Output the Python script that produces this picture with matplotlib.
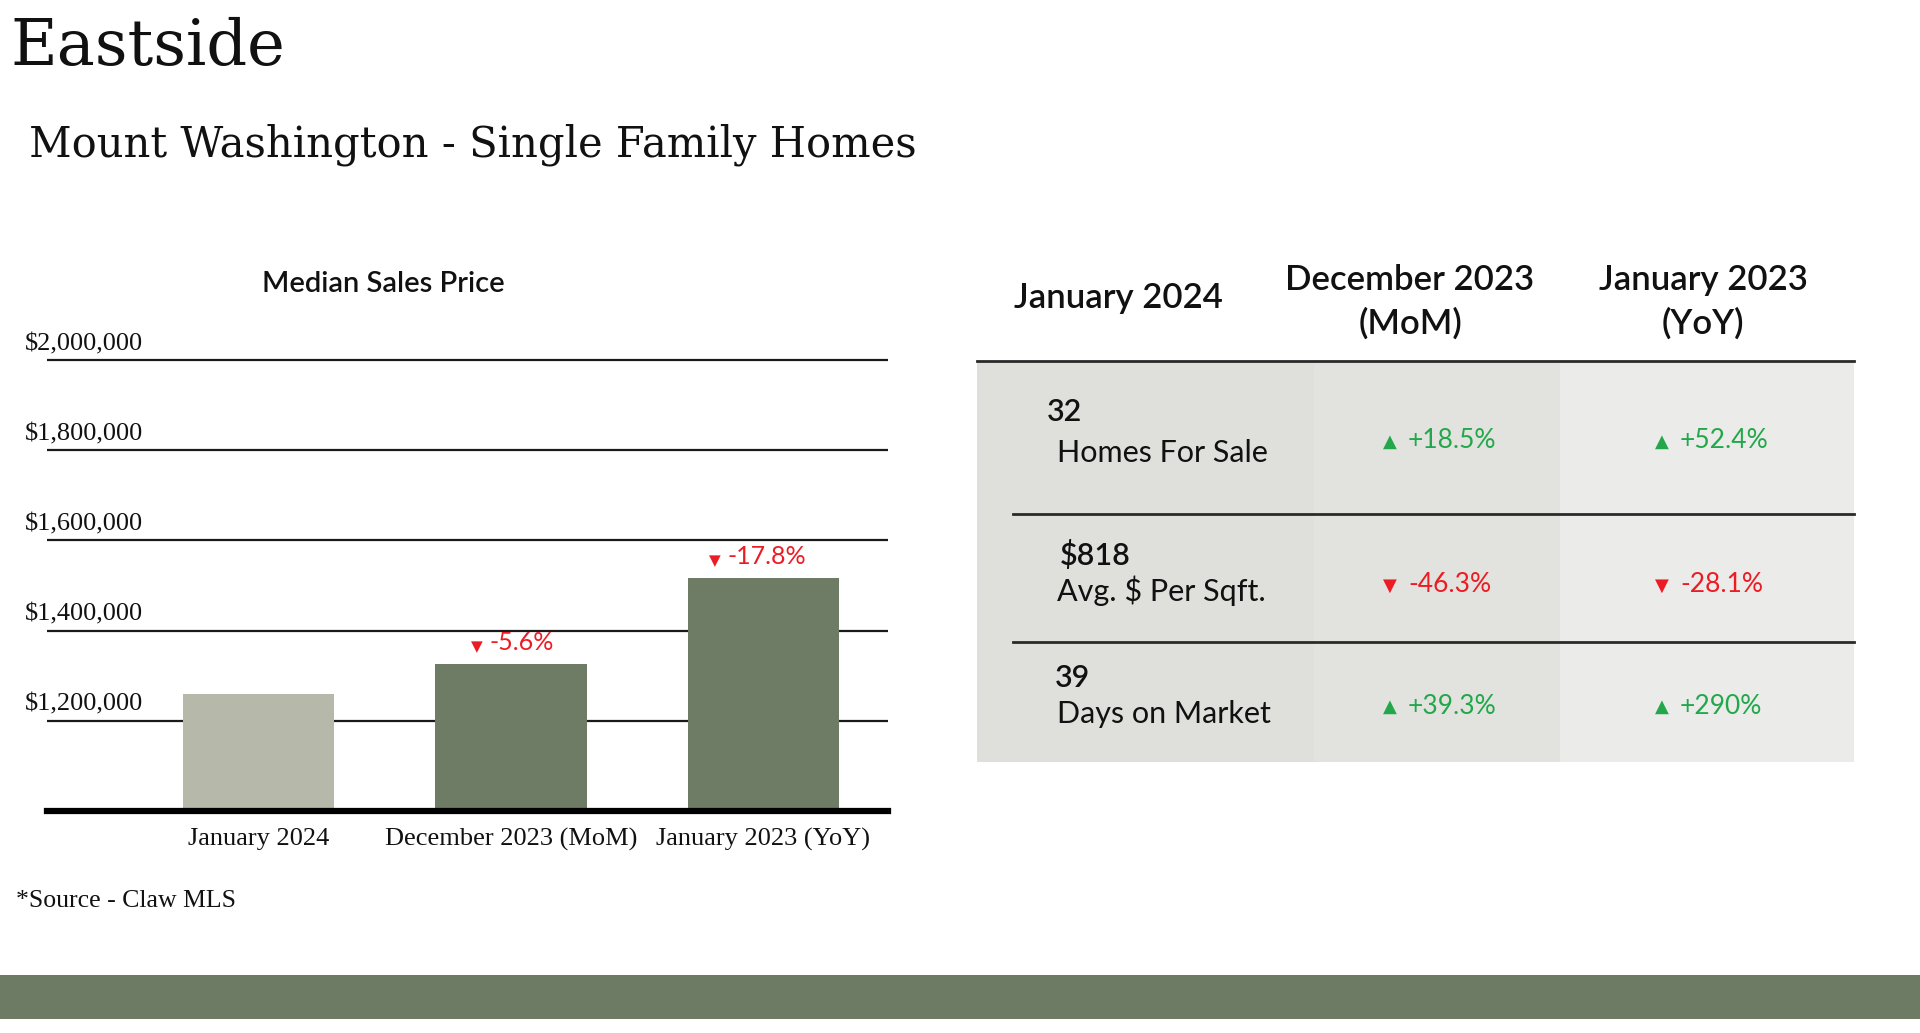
import matplotlib
matplotlib.use("Agg")
import matplotlib.pyplot as plt
from matplotlib.patches import Rectangle

# ---- data -------------------------------------------------------------
PERIODS = ["January 2024", "December 2023 (MoM)", "January 2023 (YoY)"]
MEDIAN_PRICE = [1260000, 1327000, 1517000]
PRICE_CHANGE = [None, "-5.6%", "-17.8%"]
PRICE_TICKS = [1200000, 1400000, 1600000, 1800000, 2000000]
PRICE_TICK_LABELS = ["$1,200,000", "$1,400,000", "$1,600,000", "$1,800,000", "$2,000,000"]

TABLE_HEADERS = ["January 2024", "December 2023\n(MoM)", "January 2023\n(YoY)"]
METRICS = ["Homes For Sale", "Avg. $ Per Sqft.", "Days on Market"]
CURRENT = ["32", "$818", "39"]
MOM = ["+18.5%", "-46.3%", "+39.3%"]
YOY = ["+52.4%", "-28.1%", "+290%"]

# ---- style ------------------------------------------------------------
SERIF = "Liberation Serif"
TITLE_SERIF = "DejaVu Serif"
SANS = "Lato"
BAR_LIGHT = "#b6b8aa"
BAR_DARK = "#6f7c65"
BAND = "#6e7b64"
RED = "#ec1c24"
GREEN = "#22a84b"
INK = "#111111"
W, H = 1920, 1033

fig = plt.figure(figsize=(W / 100, H / 100), dpi=100)
fig.patch.set_facecolor("white")

# page layer in pixel coords (y down) for titles / table / band
page = fig.add_axes([0, 0, 1, 1])
page.set_xlim(0, W); page.set_ylim(H, 0)
page.axis("off")

page.text(10, 65, "Eastside", family=TITLE_SERIF, fontsize=46, color=INK, va="baseline")
page.text(29, 156, "Mount Washington - Single Family Homes", family=TITLE_SERIF, fontsize=30,
          color=INK, va="baseline")
page.text(383, 284, "Median Sales Price", family=SANS, fontsize=21, fontweight="semibold",
          color=INK, ha="center", va="center")
page.text(16, 901, "*Source - Claw MLS", family=SERIF, fontsize=18.5, color=INK, va="center")
page.add_patch(Rectangle((0, 975), W, 44, facecolor=BAND, lw=0))

# ---- bar chart --------------------------------------------------------
y0, y1 = 1_000_000, 2_050_000
px_per = 451 / 1_000_000
ax_top = 811 - (y1 - y0) * px_per
ax = fig.add_axes([46.7 / W, 1 - 811 / H, (888 - 46.7) / W, (811 - ax_top) / H], zorder=2)
ax.patch.set_visible(False)
x = list(range(len(PERIODS)))
colors = [BAR_LIGHT] + [BAR_DARK] * (len(PERIODS) - 1)
ax.bar(x, MEDIAN_PRICE, width=0.6, color=colors, zorder=2)
ax.set_xlim(-0.838, 2.493)
ax.set_ylim(y0, y1)
ax.set_yticks(PRICE_TICKS)
ax.tick_params(axis="y", left=False, labelleft=False)
ax.grid(axis="y", color="#1a1a1a", lw=1.6, zorder=1)
ax.set_axisbelow(True)
ax.axhline(y0, color="black", lw=4.5, zorder=3, clip_on=False)
for sp in ax.spines.values():
    sp.set_visible(False)
ax.set_xticks(x, PERIODS, family=SERIF, fontsize=19, color=INK)
ax.tick_params(axis="x", length=0, pad=12)

for v, lab in zip(PRICE_TICKS, PRICE_TICK_LABELS):
    ax.annotate(lab, xy=(24.5, v), xycoords=("figure pixels", "data"),
                xytext=(0, 16), textcoords="offset pixels", family=SERIF, fontsize=19,
                color=INK, ha="left", va="center")

fig.canvas.draw()
renderer = fig.canvas.get_renderer()
for i, (v, chg) in enumerate(zip(MEDIAN_PRICE, PRICE_CHANGE)):
    if chg is None:
        continue
    t = ax.annotate(chg, xy=(i, v), xytext=(43, 21), textcoords="offset pixels",
                    family=SANS, fontsize=18, color=RED, ha="right", va="center")
    bb = t.get_window_extent(renderer)
    ax.annotate("\u25BC", xy=(bb.x0 - 13, bb.y0 + bb.height / 2 - 4), xycoords="figure pixels",
                family="DejaVu Sans", fontsize=11, color=RED, ha="center", va="center")

# ---- table ------------------------------------------------------------
cols = [(977, 1314, "#dfe0dc"), (1314, 1560, "#e2e3df"), (1560, 1854, "#ebebe9")]
for xa, xb, c in cols:
    page.add_patch(Rectangle((xa, 361), xb - xa, 401, facecolor=c, lw=0))
page.plot([977, 1854], [361, 361], color="#2a2a2a", lw=2)
for ys in (514, 642):
    page.plot([1013, 1854], [ys, ys], color="#2a2a2a", lw=2)

head_x = [1118, 1410, 1703]
page.text(head_x[0], 298, TABLE_HEADERS[0], family=SANS, fontsize=25, fontweight="semibold",
          color=INK, ha="center", va="center")
for hx, hd in zip(head_x[1:], TABLE_HEADERS[1:]):
    page.text(hx, 302, hd, family=SANS, fontsize=25, fontweight="semibold", color=INK,
              ha="center", va="center", linespacing=1.45)

row_y = [(412, 453, 441), (555, 591, 585), (678, 714, 706)]
num_x = [1047, 1060, 1055]
for r, (yn, ym, yv) in enumerate(row_y):
    page.text(num_x[r], yn, CURRENT[r], family=SANS, fontsize=22, fontweight="semibold",
              color=INK, ha="left", va="center")
    page.text(1057, ym, METRICS[r], family=SANS, fontsize=22, color=INK, ha="left", va="center")
    for val, tx in ((MOM[r], 1390), (YOY[r], 1662)):
        up = val.startswith("+")
        col = GREEN if up else RED
        page.text(tx, yv + 1, "\u25B2" if up else "\u25BC", family="DejaVu Sans", fontsize=13,
                  color=col, ha="center", va="center")
        page.text(tx + 18, yv, val, family=SANS, fontsize=19, color=col, ha="left", va="center")

fig.savefig("out.png", dpi=100, facecolor="white")
